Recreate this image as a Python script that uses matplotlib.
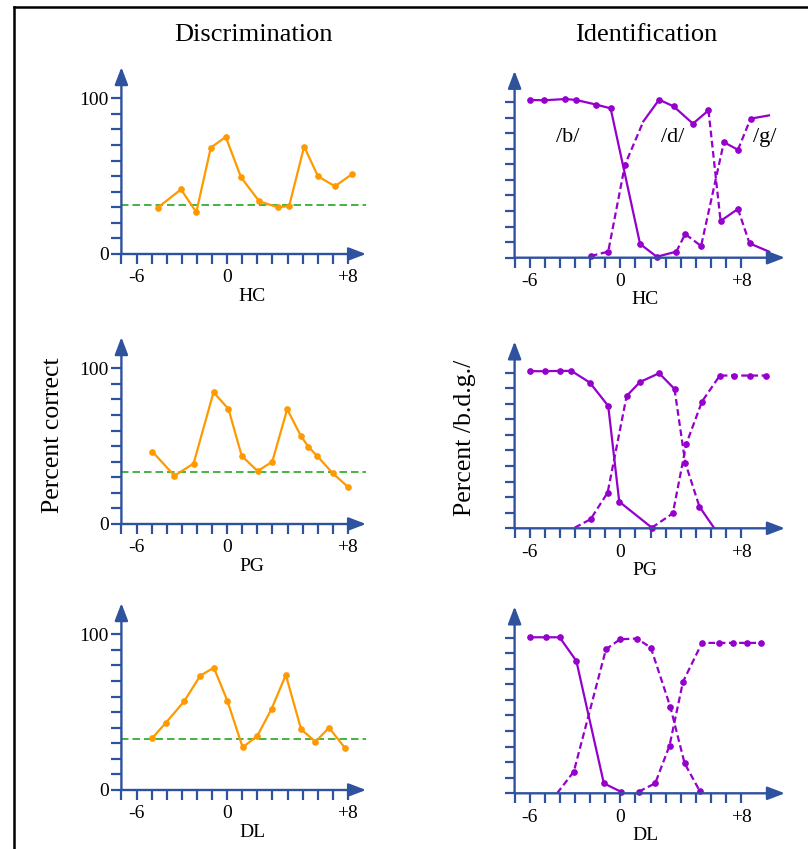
import matplotlib
matplotlib.use("Agg")
import matplotlib.pyplot as plt
from matplotlib.lines import Line2D

plt.rcParams['font.family'] = ['Liberation Serif', 'DejaVu Serif']

# ---------------- data ----------------
column_titles = ["Discrimination", "Identification"]
listeners = ["HC", "PG", "DL"]
x_tick_values = list(range(-7, 9))
x_tick_text = {-6: "-6", 0: "0", 8: "+8"}
y_tick_values = list(range(0, 101, 10))
y_tick_text = {0: "0", 100: "100"}
phoneme_labels = ["/b/", "/d/", "/g/"]
phoneme_x = [-3.5, 3.45, 9.55]
phoneme_y = 74.5

# Discrimination (percent correct)
HC_disc_x = [-4.59, -3.05, -2.04, -1.08, -0.09, 0.92, 2.13, 3.38, 4.11, 5.10, 6.02, 7.14, 8.26]
HC_disc_y = [29.8, 41.5, 26.8, 68.3, 75.2, 49.3, 33.8, 30.0, 30.8, 69.0, 49.9, 43.5, 51.2]
HC_chance = 31.5

PG_disc_x = [-4.95, -3.49, -2.22, -0.90, 0.09, 0.97, 2.02, 2.99, 3.98, 4.90, 5.38, 5.96, 7.01, 7.98]
PG_disc_y = [46.5, 31.0, 38.8, 84.6, 73.9, 43.7, 34.0, 40.0, 73.7, 56.3, 49.7, 43.7, 32.5, 24.0]
PG_chance = 33.2

DL_disc_x = [-4.97, -4.07, -2.84, -1.78, -0.88, 0.02, 1.03, 2.00, 2.95, 3.89, 4.90, 5.85, 6.75, 7.82]
DL_disc_y = [33.2, 43.0, 57.0, 73.4, 78.6, 57.2, 27.4, 34.7, 52.2, 73.9, 39.0, 31.0, 40.0, 26.8]
DL_chance = 32.8

# Identification (percent /b.d.g./)
HC_idA_x = [-5.95, -5.06, -3.64, -2.93, -1.58, -0.64, 1.31, 2.42, 3.71, 4.30, 5.35, 6.86, 7.79, 8.63, 9.85]
HC_idA_y = [101.3, 101.1, 101.9, 101.3, 98.3, 95.9, 8.8, 0.6, 3.9, 15.2, 7.5, 74.2, 69.3, 89.3, 91.4]
HC_idB_x = [-1.95, -0.80, 0.31, 1.53, 2.57, 3.53, 4.81, 5.84, 6.64, 7.79, 8.56, 9.85]
HC_idB_y = [1.1, 3.9, 59.7, 87.6, 101.5, 97.2, 86.1, 94.6, 23.6, 31.3, 9.2, 3.9]

PG_idA_x = [-6.01, -5.01, -4.02, -3.24, -2.02, -0.80, -0.07, 2.09, 3.48, 4.37, 5.41, 6.59, 7.52, 8.59, 9.63]
PG_idA_y = [100.9, 100.9, 101.1, 101.1, 93.6, 78.6, 17.1, 0.4, 9.6, 54.2, 81.4, 98.1, 98.1, 98.1, 98.1]
PG_idB_x = [-3.02, -1.97, -0.84, 0.42, 1.31, 2.57, 3.59, 4.30, 5.24, 6.20]
PG_idB_y = [0.4, 5.8, 22.9, 85.0, 94.0, 99.6, 89.5, 42.2, 13.9, 0.4]

DL_idB_x = [-6.01, -4.90, -4.02, -2.91, -1.09, 0.02]
DL_idB_y = [100.2, 100.2, 100.2, 85.0, 6.4, 1.1]
DL_idD_x = [-4.19, -3.08, -0.95, -0.02, 1.09, 2.02, 3.31, 4.26, 5.26]
DL_idD_y = [0.0, 13.9, 92.5, 98.9, 99.4, 93.6, 55.6, 19.2, 1.5]
DL_idG_x = [1.22, 2.31, 3.26, 4.15, 5.41, 6.52, 7.46, 8.41, 9.30]
DL_idG_y = [1.1, 6.4, 30.6, 71.6, 96.6, 96.6, 96.6, 96.6, 96.6]

# ---------------- styles ----------------
# per-segment line style (S solid, D dashed) and unmarked point indices
HC_idA_seg = "SSSSSSSSDDDSDS"
HC_idA_nomark = [14]
HC_idB_seg = "DDDSSSSDSDS"
HC_idB_nomark = [3, 11]
PG_idA_seg = "SSSSSSSDDDDDDD"
PG_idA_nomark = []
PG_idB_seg = "DDDSSSDDS"
PG_idB_nomark = [0, 9]
DL_idB_seg = "SSSSS"
DL_idB_nomark = []
DL_idD_seg = "DDDDDDDD"
DL_idD_nomark = [0]
DL_idG_seg = "DDDDDDDD"
DL_idG_nomark = []

BLUE = "#2E529E"
ORANGE = "#FF9900"
PURPLE = "#9500CC"
GREEN = "#22A822"

W, H = 808, 849
fig = plt.figure(figsize=(W / 100, H / 100), dpi=100)

PXX = 15.1    # pixels per x unit
PXY = 1.557   # pixels per y unit
XL = (-8.5, 11.5)
YL = (-14, 126)


def make_axes(x0_px, y0_px):
    w = (XL[1] - XL[0]) * PXX
    h = (YL[1] - YL[0]) * PXY
    left = x0_px + XL[0] * PXX
    bottom = y0_px - YL[0] * PXY
    ax = fig.add_axes([left / W, 1 - bottom / H, w / W, h / H])
    ax.set_xlim(*XL)
    ax.set_ylim(*YL)
    ax.patch.set_alpha(0)
    return ax


def setup(ax, xmax, ylabels):
    for s in ["top", "right"]:
        ax.spines[s].set_visible(False)
    ax.spines["left"].set_position(("data", -7))
    ax.spines["bottom"].set_position(("data", 0))
    ax.spines["left"].set_visible(False)
    ax.spines["bottom"].set_visible(False)
    ax.set_xticks(x_tick_values)
    ax.set_xticklabels([x_tick_text.get(v, "") for v in x_tick_values])
    ax.set_yticks(y_tick_values)
    if ylabels:
        ax.set_yticklabels([y_tick_text.get(v, "") for v in y_tick_values])
    else:
        ax.set_yticklabels([""] * len(y_tick_values))
    ax.tick_params(axis="both", direction="out", length=7, width=1.6,
                   color=BLUE, labelsize=14, labelcolor="black")
    ax.tick_params(axis="x", pad=4)
    ax.tick_params(axis="y", pad=2)
    ap = dict(arrowstyle="-|>,head_length=1.05,head_width=0.4", mutation_scale=10,
              color=BLUE, lw=1.7, shrinkA=0, shrinkB=0)
    ax.annotate("", xy=(-7, 120), xytext=(-7, 0), arrowprops=ap, annotation_clip=False)
    ax.annotate("", xy=(xmax, 0), xytext=(-7, 0), arrowprops=ap, annotation_clip=False)


def name_label(ax, name):
    ax.text(1.65, -27, name, ha="center", va="center", fontsize=14)


def seg_plot(ax, xs, ys, seg, nomark):
    i = 0
    n = len(seg)
    while i < n:
        j = i
        while j + 1 < n and seg[j + 1] == seg[i]:
            j += 1
        ls = "-" if seg[i] == "S" else (0, (3.0, 1.6))
        ax.plot(xs[i:j + 2], ys[i:j + 2], color=PURPLE, lw=1.6, ls=ls,
                solid_joinstyle="round", clip_on=False)
        i = j + 1
    mx = [x for k, x in enumerate(xs) if k not in nomark]
    my = [y for k, y in enumerate(ys) if k not in nomark]
    ax.plot(mx, my, "o", color=PURPLE, ms=3.8, clip_on=False)


LEFT_X0 = 227.1
RIGHT_X0 = 620.3
disc = [(254, HC_disc_x, HC_disc_y, HC_chance),
        (524, PG_disc_x, PG_disc_y, PG_chance),
        (790, DL_disc_x, DL_disc_y, DL_chance)]
for name, (y0, xs, ys, ch) in zip(listeners, disc):
    ax = make_axes(LEFT_X0, y0)
    setup(ax, 9.2, True)
    ax.plot([-7, 9.2], [ch, ch], color=GREEN, lw=1.2, ls=(0, (4.5, 2.4)))
    ax.plot(xs, ys, "-o", color=ORANGE, lw=1.6, ms=3.8, clip_on=False)
    name_label(ax, name)

ident = [(257.7, [(HC_idA_x, HC_idA_y, HC_idA_seg, HC_idA_nomark),
                  (HC_idB_x, HC_idB_y, HC_idB_seg, HC_idB_nomark)]),
         (528.3, [(PG_idA_x, PG_idA_y, PG_idA_seg, PG_idA_nomark),
                  (PG_idB_x, PG_idB_y, PG_idB_seg, PG_idB_nomark)]),
         (793.3, [(DL_idB_x, DL_idB_y, DL_idB_seg, DL_idB_nomark),
                  (DL_idD_x, DL_idD_y, DL_idD_seg, DL_idD_nomark),
                  (DL_idG_x, DL_idG_y, DL_idG_seg, DL_idG_nomark)])]
for k, (name, (y0, curves)) in enumerate(zip(listeners, ident)):
    ax = make_axes(RIGHT_X0, y0)
    setup(ax, 10.9, False)
    for xs, ys, seg, nm in curves:
        seg_plot(ax, xs, ys, seg, nm)
    name_label(ax, name)
    if k == 0:
        for lab, px in zip(phoneme_labels, phoneme_x):
            ax.text(px, phoneme_y, lab, ha="center", va="baseline", fontsize=16)

# titles and axis labels
fig.text(253 / W, 1 - 35 / H, column_titles[0], ha="center", va="center", fontsize=19)
fig.text(646 / W, 1 - 35 / H, column_titles[1], ha="center", va="center", fontsize=19)
fig.text(53 / W, 1 - 435 / H, "Percent correct", rotation=90, ha="center", va="center", fontsize=18.5)
fig.text(465 / W, 1 - 438 / H, "Percent /b.d.g./", rotation=90, ha="center", va="center", fontsize=18.5)

# frame (left and top edges)
fig.add_artist(Line2D([14 / W, 14 / W], [0, 1 - 7 / H], color="black", lw=1.8,
                      transform=fig.transFigure))
fig.add_artist(Line2D([14 / W, 1], [1 - 7 / H, 1 - 7 / H], color="black", lw=1.8,
                      transform=fig.transFigure))

fig.savefig("out.png", dpi=100)
